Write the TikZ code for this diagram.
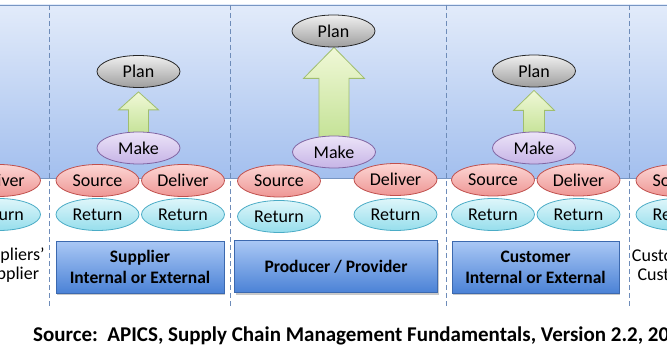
\documentclass[tikz,border=0pt]{standalone}
\usepackage{fontspec}
\setmainfont{Carlito}
\usetikzlibrary{shapes.geometric,calc,shadows}
\definecolor{bandT}{RGB}{226,235,250}
\definecolor{bandB}{RGB}{163,191,238}
\definecolor{bandL}{RGB}{120,150,195}
\definecolor{dashC}{RGB}{110,140,185}
\definecolor{makeT}{RGB}{236,228,248}
\definecolor{makeBo}{RGB}{198,180,230}
\definecolor{makeD}{RGB}{128,100,162}
\definecolor{srcT}{RGB}{252,214,212}
\definecolor{srcBo}{RGB}{238,150,148}
\definecolor{srcD}{RGB}{192,80,77}
\definecolor{retT}{RGB}{222,246,250}
\definecolor{retBo}{RGB}{150,222,236}
\definecolor{retD}{RGB}{75,172,198}
\definecolor{arrT}{RGB}{240,248,215}
\definecolor{arrBo}{RGB}{196,226,150}
\definecolor{arrD}{RGB}{160,190,110}
\definecolor{boxT}{RGB}{170,200,245}
\definecolor{boxBo}{RGB}{75,130,214}
\definecolor{boxD}{RGB}{60,105,175}
\pgfdeclarelayer{bg}
\pgfdeclarelayer{mid}
\pgfsetlayers{bg,mid,main}
\newcommand{\blockarrow}[6]{% from, to, shaft, head width, head length, gap
  \begin{pgfonlayer}{mid}
  \path[arrowshape] let \p1=(#1.north), \p2=(#2.south) in
    (\x1-#3/2,\y1-3pt) -- (\x1-#3/2,\y2-#6-#5) -- (\x1-#4/2,\y2-#6-#5)
    -- (\x1,\y2-#6) -- (\x1+#4/2,\y2-#6-#5) -- (\x1+#3/2,\y2-#6-#5)
    -- (\x1+#3/2,\y1-3pt) -- cycle;
  \end{pgfonlayer}}
\begin{document}
\begin{tikzpicture}[x=1pt,y=-1pt,
  lbl/.style={font=\fontsize{18}{19}\selectfont},
  oval/.style={ellipse, line width=0.8pt, minimum width=83pt, minimum height=32pt, inner sep=0pt, lbl},
  planov/.style={oval, draw=black!85, top color=black!6, bottom color=black!38},
  makeov/.style={oval, draw=makeD, top color=makeT, bottom color=makeBo},
  srcov/.style={oval, draw=srcD, top color=srcT, bottom color=srcBo},
  retov/.style={oval, draw=retD, top color=retT, bottom color=retBo},
  arrowshape/.style={draw=arrD, line width=0.8pt, top color=arrT, bottom color=arrBo},
  rolebox/.style={draw=boxD, line width=0.8pt, top color=boxT, bottom color=boxBo,
    minimum height=52pt, align=center, font=\bfseries\fontsize{17.5}{21}\selectfont,
    drop shadow={shadow xshift=1pt, shadow yshift=-2pt, fill=black!35, opacity=0.6}},
  sidetext/.style={align=center, font=\fontsize{18}{19}\selectfont},
  divider/.style={draw=dashC, dash pattern=on 5pt off 3pt, line width=0.8pt}
]
\useasboundingbox (0,0) rectangle (667,350);
\clip (0,0) rectangle (667,350);
\begin{pgfonlayer}{bg}
\fill[white] (0,0) rectangle (667,350);
\shade[top color=bandT, bottom color=bandB] (0,5) rectangle (667,178);
\draw[bandL, line width=0.8pt] (0,5) -- (667,5);
\draw[bandL, line width=0.8pt] (0,178) -- (667,178);
\foreach \xx in {49,230,446,629} \draw[divider] (\xx,5) -- (\xx,306);
\end{pgfonlayer}

% left partial column
\node[srcov] (d0) at (-1,180.5) {Deliver};
\node[retov] (r0) at (-1,214.5) {Return};
\node[sidetext] (t0) at (9,265) {Suppliers'\\Supplier};

% supplier column
\node[planov] (p1) at (138.5,71.5) {Plan};
\node[makeov] (m1) at (138.5,148) {Make};
\node[srcov] (s1) at (97.5,180.5) {Source};
\node[srcov] (d1) at (183,180.5) {Deliver};
\node[retov] (ra1) at (97.5,214.5) {Return};
\node[retov] (rb1) at (183,214.5) {Return};
\node[rolebox, minimum width=168pt] (b1) at (140,267) {Supplier\\Internal or External};
\blockarrow{m1}{p1}{20pt}{40pt}{18pt}{4pt}

% producer column
\node[planov] (p2) at (333.5,31) {Plan};
\node[makeov] (m2) at (334,152) {Make};
\node[srcov] (s2) at (279,181) {Source};
\node[srcov] (d2) at (395.5,179.5) {Deliver};
\node[retov] (ra2) at (279,216.5) {Return};
\node[retov] (rb2) at (395.5,214.5) {Return};
\node[rolebox, minimum width=203pt] (b2) at (336,266.5) {Producer / Provider};
\blockarrow{m2}{p2}{30pt}{61pt}{31pt}{0pt}

% customer column
\node[planov] (p3) at (534,71) {Plan};
\node[makeov] (m3) at (534,148) {Make};
\node[srcov] (s3) at (493,180) {Source};
\node[srcov] (d3) at (578.5,180) {Deliver};
\node[retov] (ra3) at (493,214.5) {Return};
\node[retov] (rb3) at (578.5,214.5) {Return};
\node[rolebox, minimum width=167pt] (b3) at (535.5,267) {Customer\\Internal or External};
\blockarrow{m3}{p3}{21pt}{41pt}{20pt}{3pt}

% right partial column
\node[srcov] (s4) at (677.5,180.5) {Source};
\node[retov] (r4) at (677.5,214.5) {Return};
\node[sidetext] (t4) at (673,265) {Customers'\\Customer};

% source line
\node[anchor=base west, inner sep=0pt, font=\bfseries\fontsize{21}{24}\selectfont] (cite) at (33,341) {Source:\ \ APICS, Supply Chain Management Fundamentals, Version 2.2, 20};
\end{tikzpicture}
\end{document}
